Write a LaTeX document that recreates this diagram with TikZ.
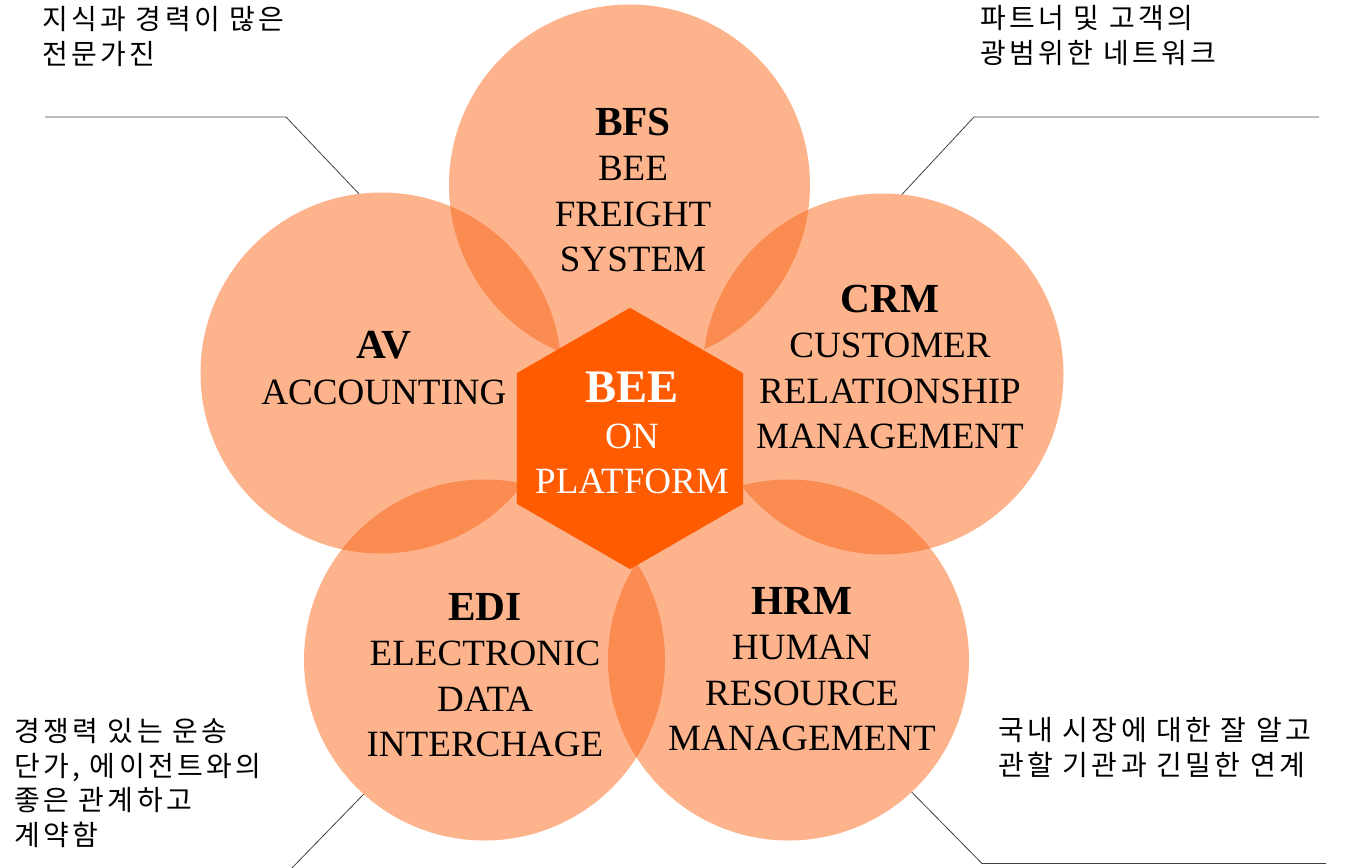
\documentclass[tikz,border=0pt]{standalone}
\usepackage{fontspec}
\setmainfont{Liberation Serif}
\newfontfamily\krfont{Noto Sans CJK KR}[LetterSpace=12]
\usetikzlibrary{shapes.geometric}
\usepackage{xcolor}

\definecolor{petalorange}{RGB}{250,100,20}
\definecolor{huborange}{RGB}{255,91,0}

\newcommand{\headfont}{\fontsize{31}{34}\selectfont\bfseries}
\newcommand{\corefont}{\fontsize{35}{36}\selectfont\bfseries}

\tikzset{
  petal/.style={circle,fill=petalorange,fill opacity=0.49,minimum size=270.75pt,inner sep=0pt,outer sep=0pt},
  hub/.style={regular polygon,regular polygon sides=6,regular polygon rotate=30,fill=huborange,minimum size=196pt,inner sep=0pt,outer sep=0pt},
  petaltext/.style={align=center,inner sep=0pt,font=\fontsize{27.8}{34}\selectfont},
  note/.style={align=left,anchor=north west,inner sep=0pt,font=\krfont\fontsize{21}{26}\selectfont},
  leader/.style={black!75,line width=0.6pt}
}

\begin{document}
\begin{tikzpicture}[x=0.75pt,y=0.75pt]
    \useasboundingbox (0,0) rectangle (1345,-867);

    % Kreise
    \node[petal] (bfs) at (629.5,-185) {};
    \node[petal] (av) at (381,-373) {};
    \node[petal] (crm) at (883,-374) {};
    \node[petal] (edi) at (484.5,-660) {};
    \node[petal] (hrm) at (788.5,-660) {};

    % Sechseck
    \node[hub] (core) at (630,-438.5) {};

    % Beschriftung Kreise
    \node[petaltext] (bfsText) at (633,-190) {{\headfont BFS}\\BEE\\FREIGHT\\SYSTEM};
    \node[petaltext] (avText) at (384,-368) {{\headfont AV}\\ACCOUNTING};
    \node[petaltext] (crmText) at (890,-367) {{\headfont CRM}\\CUSTOMER\\RELATIONSHIP\\MANAGEMENT};
    \node[petaltext] (ediText) at (485,-675) {{\headfont EDI}\\ELECTRONIC\\DATA\\INTERCHAGE};
    \node[petaltext] (hrmText) at (802,-669) {{\headfont HRM}\\HUMAN\\RESOURCE\\MANAGEMENT};
    \node[petaltext,text=white] (coreText) at (632,-433) {{\corefont BEE}\\ON\\PLATFORM};

    % Anmerkungen
    \node[note] (expertNote) at (42,-6) {지식과 경력이 많은\\전문가진};
    \node[note] (networkNote) at (980,-5) {파트너 및 고객의\\광범위한 네트워크};
    \node[note] (rateNote) at (14,-718) {경쟁력 있는 운송\\단가, 에이전트와의\\좋은 관계하고\\계약함};
    \node[note] (marketNote) at (998,-717) {국내 시장에 대한 잘 알고\\관할 기관과 긴밀한 연계};

    % Hinweislinien
    \coordinate (avKnee) at (286,-117);
    \coordinate (avEnd) at (45,-117);
    \draw[leader] (av.97.5) -- (avKnee) -- (avEnd);

    \coordinate (crmKnee) at (974,-117);
    \coordinate (crmEnd) at (1319,-117);
    \draw[leader] (crm.84) -- (crmKnee) -- (crmEnd);

    \coordinate (ediEnd) at (290,-870);
    \draw[leader] (edi.228) -- (ediEnd);

    \coordinate (hrmKnee) at (982,-863.5);
    \coordinate (hrmEnd) at (1326,-863.5);
    \draw[leader] (hrm.313) -- (hrmKnee) -- (hrmEnd);
  \end{tikzpicture}
\end{document}
